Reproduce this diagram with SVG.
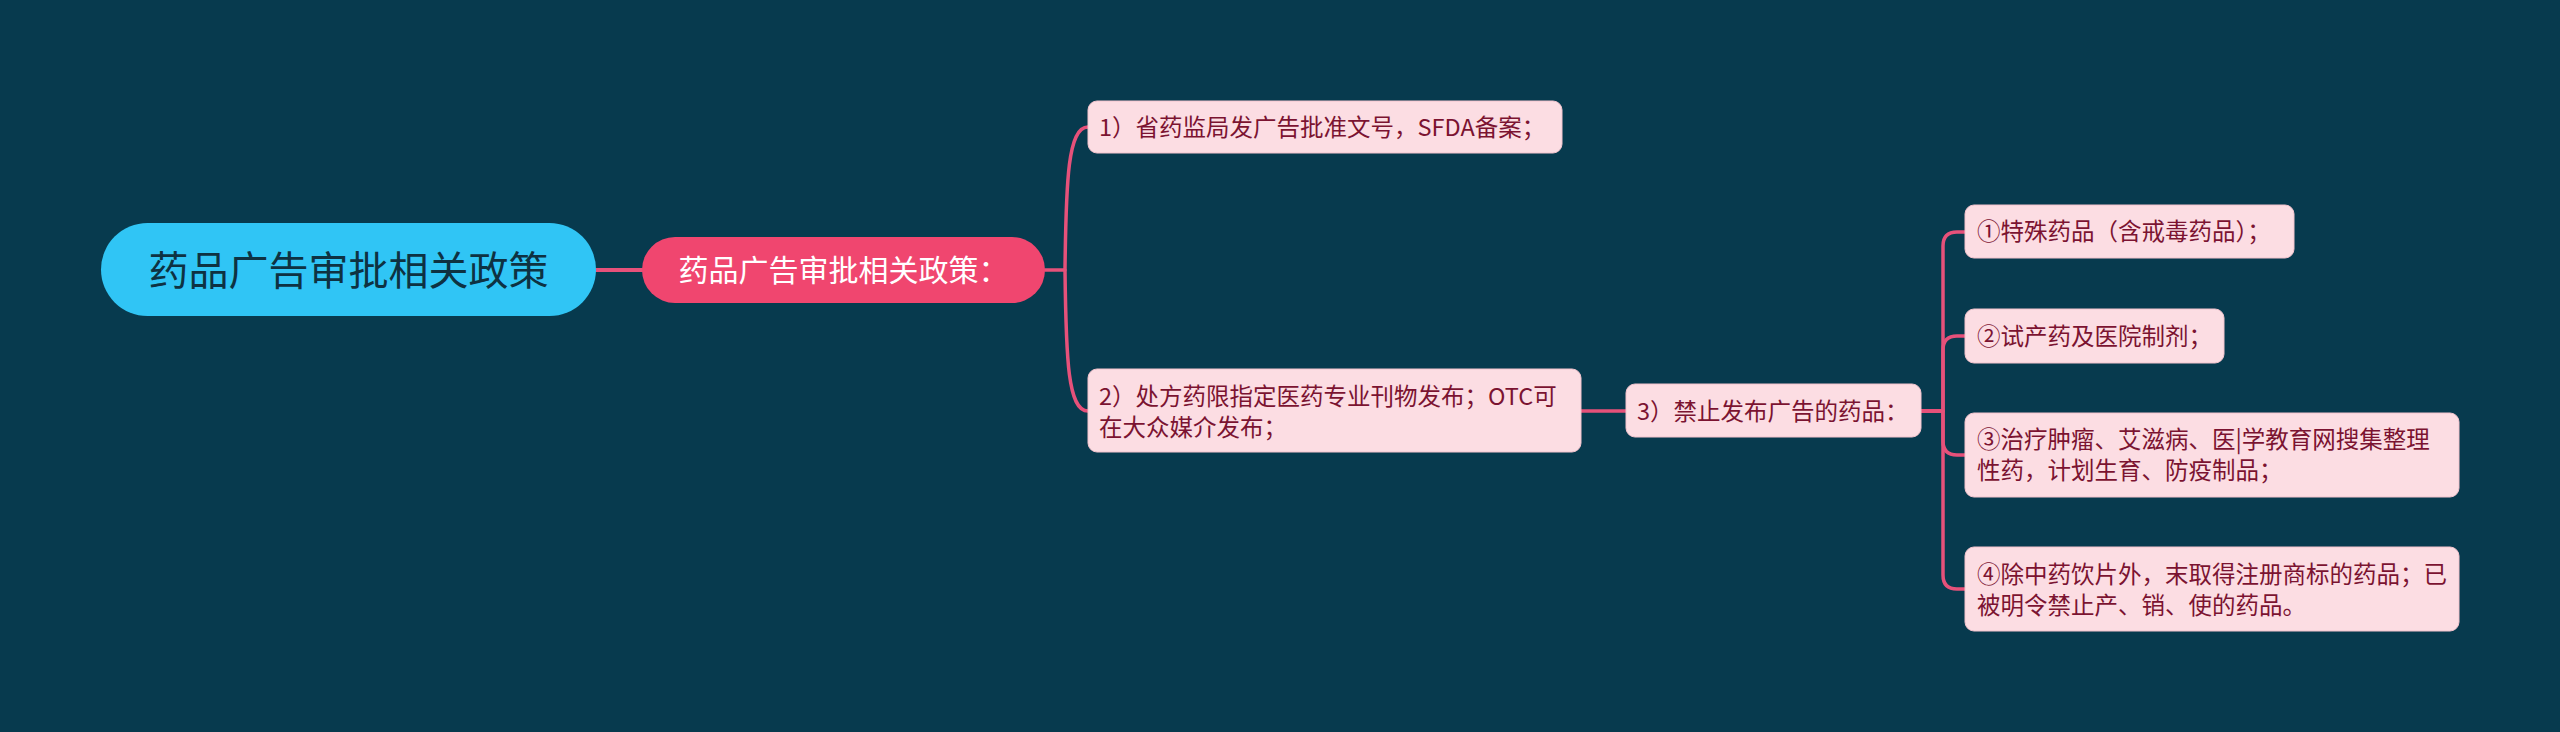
<svg xmlns="http://www.w3.org/2000/svg" width="2560" height="732" viewBox="0 0 2560 732">
<style>
.bg{fill:#073a4e}
.root{fill:#30c5f5}
.roott{font-family:"Noto Sans CJK SC","Noto Sans",sans-serif;font-size:40px;fill:#0e3242;text-anchor:middle}
.l1{fill:#f0466f}
.l1t{font-family:"Noto Sans CJK SC","Noto Sans",sans-serif;font-size:30px;fill:#ffffff;text-anchor:middle}
.leaf{fill:#fcdde3;stroke:#f3c3cd;stroke-width:1}
.leaft{font-family:"Noto Sans CJK SC","Noto Sans",sans-serif;font-size:23.5px;fill:#7b1331}
.c{fill:none;stroke:#e6517a;stroke-width:3.5;stroke-linecap:round;stroke-linejoin:round}
</style>
<rect class="bg" x="0" y="0" width="2560" height="732"/>
<g id="connectors">
<path class="c" style="stroke-width:4" d="M596,270 L642,270"/>
<path class="c" d="M1045,270 L1065,270 C1066,180 1068,127 1088,127"/>
<path class="c" d="M1065,270 C1066,360 1068,411 1088,411"/>
<path class="c" d="M1581,411 L1626,411"/>
<path class="c" d="M1921,411 H1943 V246 Q1943,232 1957,232 H1965"/>
<path class="c" d="M1921,411 H1943 V350 Q1943,336 1957,336 H1965"/>
<path class="c" d="M1921,411 H1943 V441 Q1943,455 1957,455 H1965"/>
<path class="c" d="M1921,411 H1943 V575 Q1943,589 1957,589 H1965"/>
</g>
<g id="root">
<rect class="root" x="101" y="223" width="495" height="93" rx="46.5"/>
<text class="roott" x="348.5" y="284.5">药品广告审批相关政策</text>
</g>
<g id="l1">
<rect class="l1" x="642" y="237" width="403" height="66" rx="33"/>
<text class="l1t" x="843.5" y="281">药品广告审批相关政策：</text>
</g>
<g id="n1">
<rect class="leaf" x="1088" y="101" width="474" height="52" rx="9"/>
<text class="leaft" x="1099" y="136">1）省药监局发广告批准文号，SFDA备案；</text>
</g>
<g id="n2">
<rect class="leaf" x="1088" y="369" width="493" height="83" rx="9"/>
<text class="leaft" x="1099" y="405">2）处方药限指定医药专业刊物发布；OTC可</text>
<text class="leaft" x="1099" y="436">在大众媒介发布；</text>
</g>
<g id="n3">
<rect class="leaf" x="1626" y="384" width="295" height="53" rx="9"/>
<text class="leaft" x="1637" y="419.5">3）禁止发布广告的药品：</text>
</g>
<g id="na">
<rect class="leaf" x="1965" y="205" width="329" height="53" rx="9"/>
<text class="leaft" x="1977" y="240">①特殊药品（含戒毒药品）；</text>
</g>
<g id="nb">
<rect class="leaf" x="1965" y="309" width="259" height="54" rx="9"/>
<text class="leaft" x="1977" y="345">②试产药及医院制剂；</text>
</g>
<g id="nc">
<rect class="leaf" x="1965" y="413" width="494" height="84" rx="9"/>
<text class="leaft" x="1977" y="448">③治疗肿瘤、艾滋病、医|学教育网搜集整理</text>
<text class="leaft" x="1977" y="479">性药，计划生育、防疫制品；</text>
</g>
<g id="nd">
<rect class="leaf" x="1965" y="547" width="494" height="84" rx="9"/>
<text class="leaft" x="1977" y="583">④除中药饮片外，末取得注册商标的药品；已</text>
<text class="leaft" x="1977" y="614">被明令禁止产、销、使的药品。</text>
</g>
</svg>
